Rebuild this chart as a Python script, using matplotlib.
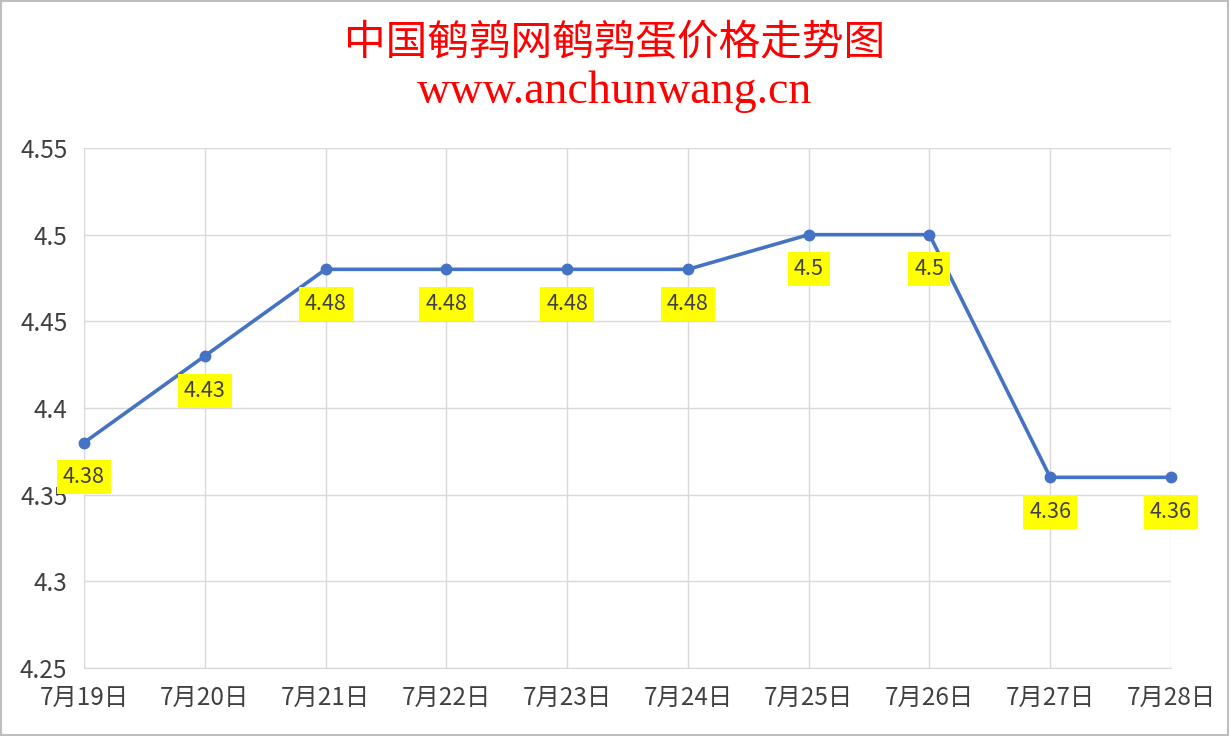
import matplotlib.pyplot as plt
from matplotlib.patches import Rectangle

plt.rcParams['font.family'] = ['Noto Sans CJK SC', 'DejaVu Sans']

dates = ['7月19日', '7月20日', '7月21日', '7月22日', '7月23日',
         '7月24日', '7月25日', '7月26日', '7月27日', '7月28日']
prices = [4.38, 4.43, 4.48, 4.48, 4.48, 4.48, 4.5, 4.5, 4.36, 4.36]
price_labels = ['4.38', '4.43', '4.48', '4.48', '4.48', '4.48', '4.5', '4.5', '4.36', '4.36']
yticks = [4.25, 4.3, 4.35, 4.4, 4.45, 4.5, 4.55]
ytick_labels = ['4.25', '4.3', '4.35', '4.4', '4.45', '4.5', '4.55']

fig = plt.figure(figsize=(12.3, 7.36), dpi=100)
ax = fig.add_axes([84 / 1230, 1 - 668 / 736, 1087 / 1230, 520 / 736])

x = list(range(len(dates)))
ax.plot(x, prices, color='#4472C4', linewidth=2.6, marker='o', markersize=7.5, zorder=3)

# yellow value labels under each point
for xi, yi, lab in zip(x, prices, price_labels):
    ax.annotate(lab, (xi, yi), xytext=(0, -25), textcoords='offset points',
                ha='center', va='center', fontsize=15.5, color='#404040',
                bbox=dict(boxstyle='square,pad=0.28', facecolor='#FFFF00', edgecolor='none'),
                zorder=4)

ax.set_xlim(0, len(dates) - 1)
ax.set_ylim(4.25, 4.55)
ax.set_xticks(x)
ax.set_xticklabels(dates)
ax.set_yticks(yticks)
ax.set_yticklabels(ytick_labels)
ax.grid(True, color='#D9D9D9', linewidth=1)
ax.set_axisbelow(True)
ax.tick_params(length=0, colors='#404040')
ax.tick_params(axis='y', pad=12, labelsize=17.5)
ax.tick_params(axis='x', pad=12, labelsize=17.5)
for side in ['top', 'right']:
    ax.spines[side].set_visible(False)
for side in ['left', 'bottom']:
    ax.spines[side].set_color('#D9D9D9')
for line in ax.get_lines():
    line.set_clip_on(False)

fig.text(0.5, 1 - 44 / 736, '中国鹌鹑网鹌鹑蛋价格走势图', ha='center', va='center',
         fontsize=30, color='#FF0000')
fig.text(0.5, 1 - 92 / 736, 'www.anchunwang.cn', ha='center', va='center',
         fontsize=33, color='#FF0000', family='Liberation Serif')

fig.patches.append(Rectangle((0.001, 0.001), 0.997, 0.997, transform=fig.transFigure,
                             fill=False, edgecolor='#BFBFBF', linewidth=1.5))

fig.savefig('out.png', dpi=100)
